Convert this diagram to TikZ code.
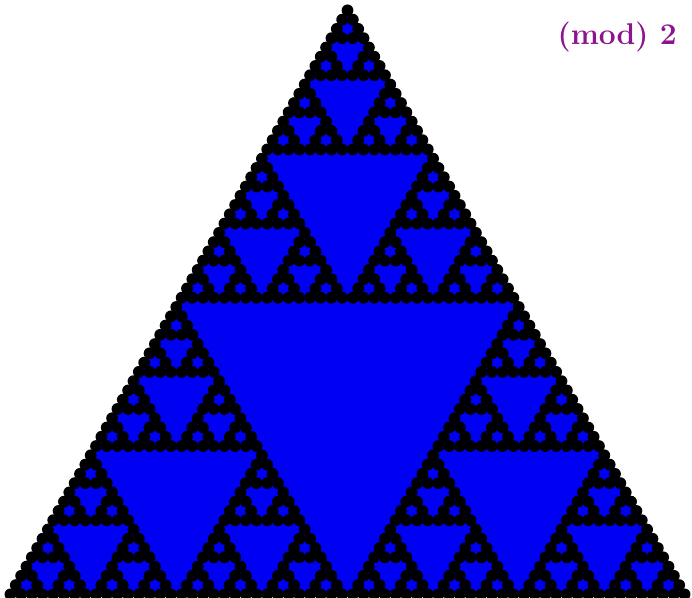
\documentclass[tikz,border=0pt]{standalone}
\usepackage{tikz}
\usetikzlibrary{positioning}
\usepackage{xcolor}
\definecolor{pascalblue}{RGB}{0,0,242}
\definecolor{modpurple}{RGB}{140,20,140}

\begin{document}
\begin{tikzpicture}[x=10.7pt, y=-9.27pt]
\useasboundingbox (-347.5pt,10.35pt) rectangle (344.5pt,-586.65pt);
\begin{scope}
    % even entries: one blue triangle under everything
    \fill[pascalblue] (0,0) -- (-31.5,63) -- (31.5,63) -- cycle;
    % odd entries of rows 0..63, bit by bit
    \foreach \na/\ka in {0/0,1/0,1/1}{
    \foreach \nb/\kb in {0/0,2/0,2/2}{
    \foreach \nc/\kc in {0/0,4/0,4/4}{
    \foreach \nd/\kd in {0/0,8/0,8/8}{
    \foreach \ne/\ke in {0/0,16/0,16/16}{
    \foreach \nf/\kf in {0/0,32/0,32/32}{
        \fill[black] ({\ka+\kb+\kc+\kd+\ke+\kf-(\na+\nb+\nc+\nd+\ne+\nf)/2},{\na+\nb+\nc+\nd+\ne+\nf}) circle (5.9pt);
    }}}}}}
\end{scope}
\node[anchor=base east, inner sep=0pt, font=\fontsize{30}{36}\selectfont\bfseries, text=modpurple] (modlabel) at (329.5pt,-33.65pt) {(mod) 2};
\end{tikzpicture}
\end{document}
